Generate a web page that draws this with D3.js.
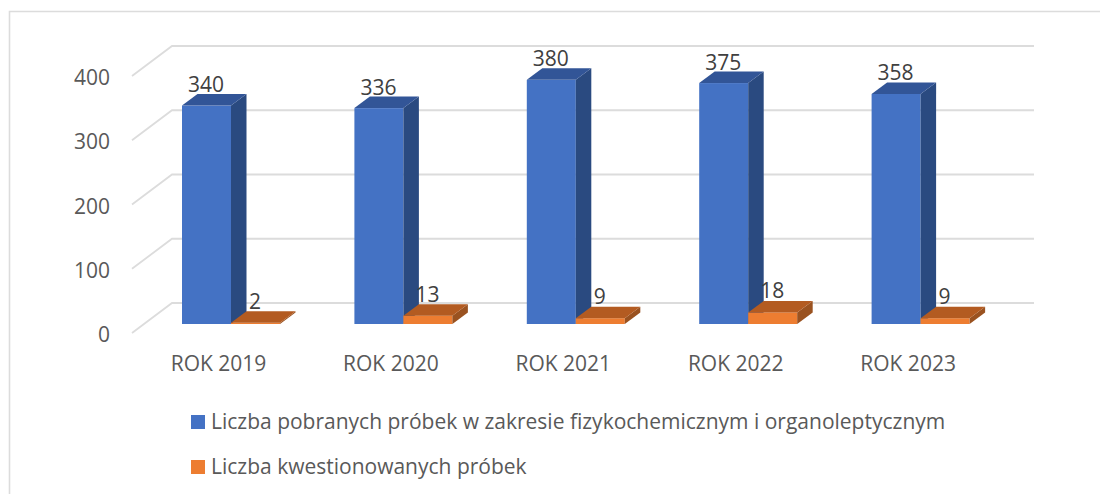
<!DOCTYPE html>
<html><head><meta charset="utf-8">
<script src="https://cdn.jsdelivr.net/npm/d3@7"></script>
<style>html,body{margin:0;padding:0;background:#fff}svg{display:block}text{font-family:"Open Sans",sans-serif;font-size:21px}</style>
</head><body><svg id="c" width="1100" height="494"></svg>
<script>
const categories = ["ROK 2019","ROK 2020","ROK 2021","ROK 2022","ROK 2023"];
const sampled = [340,336,380,375,358];
const questioned = [2,13,9,18,9];
const yTicks = [0,100,200,300,400];
const seriesNames = ["Liczba pobranych próbek w zakresie fizykochemicznym i organoleptycznym","Liczba kwestionowanych próbek"];

const svg = d3.select("#c");
const base=324, dx=15.5, dy=11.5, barW=49;
const y=d3.scaleLinear().domain([0,400]).range([base,base-257]);
const x0=d3.scaleBand().domain(categories).range([182,182+172.4*5]);
const grid="#dcdcdc";
svg.append("path").attr("d","M9.5 494V11.5H1100").attr("fill","none").attr("stroke",grid).attr("stroke-width",1.6);
const wallDx=40, wallDy=30;
yTicks.forEach(t=>{
  const yy=y(t)+9;
  svg.append("path").attr("d",`M132 ${yy}L${132+wallDx} ${yy-wallDy}H1034`).attr("fill","none").attr("stroke",grid).attr("stroke-width",1.8);
  svg.append("text").attr("x",110).attr("y",yy+9).attr("text-anchor","end").attr("fill","#595959").text(t);
});
const blue={f:"#4472c4",t:"#325597",s:"#2a4a80"}, orange={f:"#ed7d31",t:"#b35b21",s:"#9a5220"};
function bar(px,v,c){
  const top=y(v), g=svg.append("g");
  g.append("rect").attr("x",px).attr("y",top).attr("width",barW).attr("height",base-top).attr("fill",c.f);
  g.append("path").attr("d",`M${px+barW} ${top}l${dx} ${-dy}V${base-dy}l${-dx} ${dy}Z`).attr("fill",c.s);
  g.append("path").attr("d",`M${px} ${top}l${dx} ${-dy}h${barW}l${-dx} ${dy}Z`).attr("fill",c.t);
}
categories.forEach((cat,i)=>{
  const px=x0(cat);
  bar(px,sampled[i],blue);
  bar(px+barW,questioned[i],orange);
});
categories.forEach((cat,i)=>{
  const px=x0(cat);
  svg.append("text").attr("x",px+24).attr("y",y(sampled[i])-13.5).attr("text-anchor","middle").attr("fill","#404040").text(sampled[i]);
  svg.append("text").attr("x",px+73).attr("y",y(questioned[i])-14).attr("text-anchor","middle").attr("fill","#404040").text(questioned[i]);
  svg.append("text").attr("x",px+36.5).attr("y",371).attr("text-anchor","middle").attr("fill","#595959").text(cat);
});
const colors=[blue.f,orange.f], ly=[422,467];
seriesNames.forEach((n,i)=>{
  svg.append("rect").attr("x",191).attr("y",ly[i]-7).attr("width",14).attr("height",14).attr("fill",colors[i]);
  svg.append("text").attr("x",211).attr("y",ly[i]+7).attr("fill","#595959").text(n);
});
</script></body></html>
